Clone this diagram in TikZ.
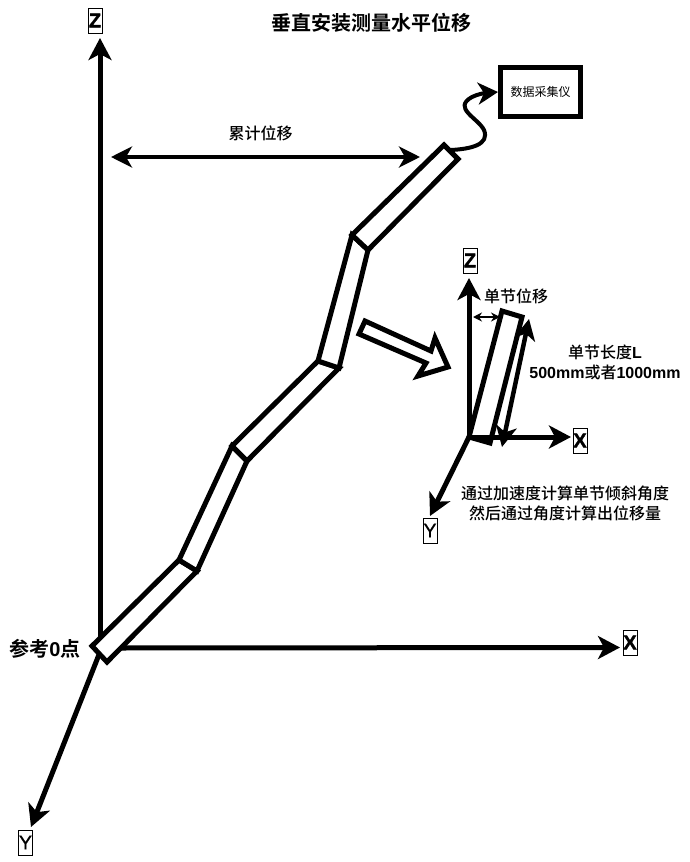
\documentclass[tikz,border=0pt]{standalone}
\usepackage{fontspec}
\setmainfont{Liberation Sans}
\newfontfamily\cjk{Noto Sans CJK SC Medium}
\newfontfamily\cjkb{Noto Sans CJK SC Bold}
\newfontfamily\cjkr{Noto Sans CJK SC}
\newfontfamily\latb{Liberation Sans Bold}
\newfontfamily\axisb{Liberation Sans Bold}[FakeBold=1.5]
\newfontfamily\axisr{Liberation Sans}[FakeBold=0.6]
\usetikzlibrary{arrows.meta}
\tikzset{
  axis/.style={line width=5pt,-{Stealth[length=22pt,width=23pt,inset=6pt]}},
  span/.style={line width=4.5pt,{Stealth[length=21pt,width=21pt,inset=6pt]}-{Stealth[length=21pt,width=21pt,inset=6pt]}},
  tube/.style={line width=5pt,fill=white,line join=miter},
  letter/.style={draw,line width=1pt,inner sep=0pt,minimum width=14pt,minimum height=25pt,font=\fontsize{20}{20}\selectfont\axisb},
  lbl/.style={inner sep=0pt,align=center,font=\fontsize{16}{20}\selectfont\cjk}
}
\begin{document}
\begin{tikzpicture}[x=1pt,y=-1pt]
      \useasboundingbox (0,0) rectangle (690,862);

      \coordinate (a0) at (92,646);  \coordinate (b0) at (107,662);
      \coordinate (a1) at (179,560); \coordinate (b1) at (197,571);
      \coordinate (a2) at (232,446); \coordinate (b2) at (247,461);
      \coordinate (a3) at (318,361); \coordinate (b3) at (339,368);
      \coordinate (a4) at (352,235); \coordinate (b4) at (368,250);
      \coordinate (a5) at (444,145); \coordinate (b5) at (458,159);

      \node [letter] (mainz) at (95,20.5) {Z};
      \node [letter] (mainx) at (630,642.5) {X};
      \node [letter,font=\fontsize{20}{20}\selectfont\axisr] (mainy) at (25.5,842.5) {Y};
      \coordinate (mainztip) at (100,38);
      \coordinate (mainxtip) at (620,647.5);
      \coordinate (mainytip) at (31,827);
      \coordinate (ztail) at (100,640);
      \coordinate (xtail) at (118,648);
      \coordinate (ytail) at (100,652);
      \draw [axis] (ztail) -- (mainztip);
      \draw [axis] (xtail) -- (mainxtip);
      \draw [axis] (ytail) -- (mainytip);

      \foreach \i/\j in {0/1,1/2,2/3,3/4,4/5}
        \draw [tube] (a\i) -- (a\j) -- (b\j) -- (b\i) -- cycle;

      \coordinate (spanl) at (111,157);
      \coordinate (spanr) at (420,157);
      \draw [span] (spanl) -- (spanr);

      \node [draw,line width=5pt,minimum width=80pt,minimum height=49pt,inner sep=0pt,font=\fontsize{12}{14}\selectfont\cjkr] (daq) at (540.5,92) {数据采集仪};
      \coordinate (cable) at (451,150);
      \draw [line width=4pt,-{Stealth[length=20pt,width=22pt,inset=6pt]}] (cable) .. controls (470,149) and (490,145) .. (484,130) .. controls (478,118) and (452,108) .. (472,97) .. controls (478,94) and (485,93) .. (daq.west);

      \node [font=\fontsize{20}{24}\selectfont\cjkb,inner sep=0pt] (title) at (371,23) {垂直安装测量水平位移};
      \node [lbl] (total) at (260.5,133) {累计位移};
      \node [lbl,font=\fontsize{20}{24}\selectfont\cjkb] (zero) at (45,649) {参考{\latb 0}点};

      \draw [line width=5pt,fill=white,line join=miter] (365,321) -- (359,334) -- (426,363) -- (418,376) -- (448,367) -- (435,338) -- (431,351) -- cycle;

      \coordinate (o) at (469,437);
      \coordinate (ztip) at (469,278);
      \coordinate (xtip) at (571,437);
      \coordinate (ytip) at (430,516);
      \node [letter] (smallz) at (470,260.5) {Z};
      \node [letter] (smallx) at (580,440.5) {X};
      \node [letter,font=\fontsize{20}{20}\selectfont\axisr] (smally) at (430,530.5) {Y};
      \draw [axis] (o) -- (ztip);
      \draw [axis] (o) -- (xtip);
      \draw [axis] (o) -- (ytip);
      \draw [line width=5pt,line join=miter] (o) -- (502,311) -- (522,317) -- (490,443) -- cycle;

      \coordinate (lenb) at (502,447);
      \coordinate (lent) at (529,319);
      \draw [line width=4.5pt,{Stealth[length=21pt,width=21pt,inset=6pt]}-{Stealth[length=21pt,width=21pt,inset=6pt]}] (lenb) -- (lent);
      \coordinate (dxl) at (473,317);
      \coordinate (dxr) at (500,317);
      \draw [line width=1.5pt,{Stealth[length=9pt,width=9pt,inset=3pt]}-{Stealth[length=9pt,width=9pt,inset=3pt]}] (dxl) -- (dxr);

      \node [lbl] (dxlbl) at (516,296) {单节位移};
      \node [lbl] (lenlbl) at (605,362) {单节长度{\latb L}\\{\latb 500mm}或者{\latb 1000mm}};
      \node [lbl] (note) at (565,503) {通过加速度计算单节倾斜角度\\然后通过角度计算出位移量};
    \end{tikzpicture}
\end{document}
